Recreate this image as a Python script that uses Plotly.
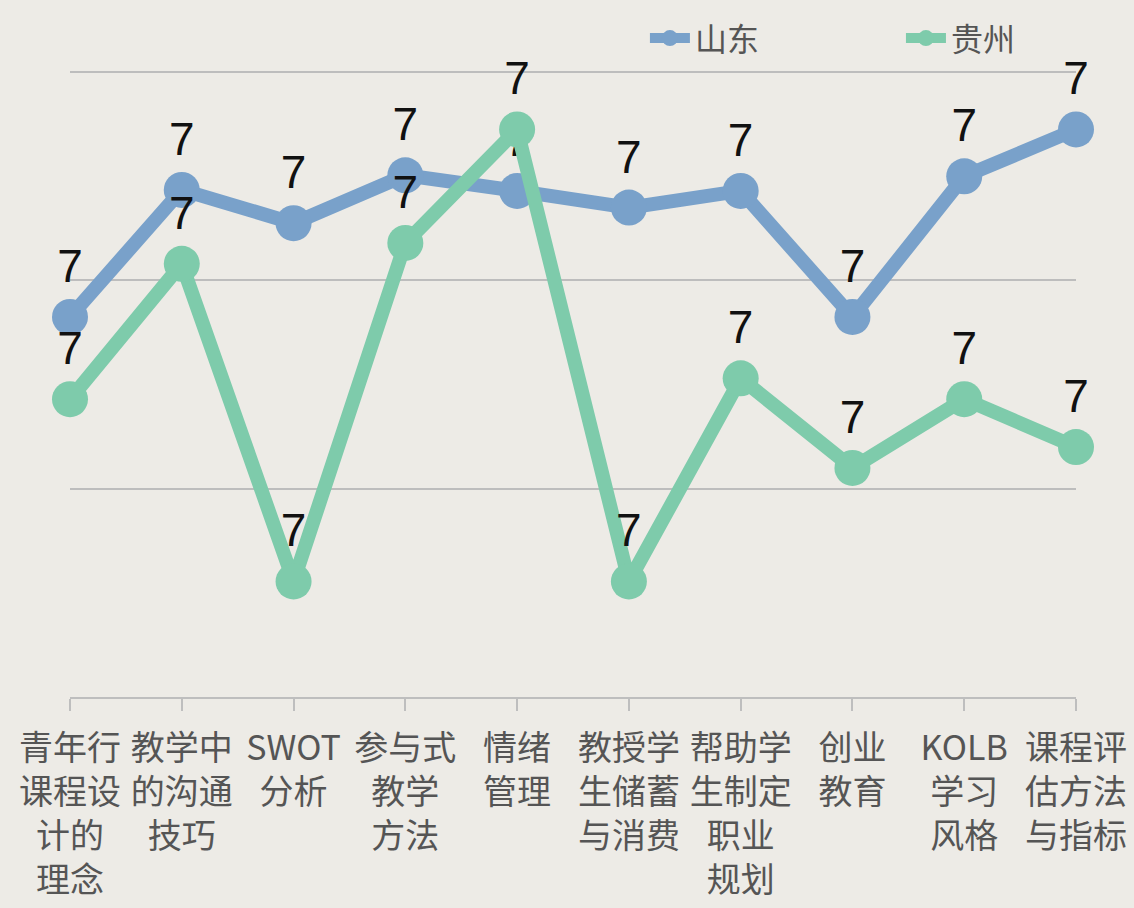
import plotly.graph_objects as go

categories = [
    "青年行<br>课程设<br>计的<br>理念",
    "教学中<br>的沟通<br>技巧",
    "SWOT<br>分析",
    "参与式<br>教学<br>方法",
    "情绪<br>管理",
    "教授学<br>生储蓄<br>与消费",
    "帮助学<br>生制定<br>职业<br>规划",
    "创业<br>教育",
    "KOLB<br>学习<br>风格",
    "课程评<br>估方法<br>与指标",
]
shandong = [6.765, 6.887, 6.855, 6.901, 6.886, 6.870, 6.886, 6.765, 6.900, 6.945]
guizhou = [6.686, 6.816, 6.511, 6.836, 6.945, 6.511, 6.706, 6.620, 6.686, 6.640]

series = [("山东", shandong, "#79A1CA", "legend"), ("贵州", guizhou, "#7ECBAB", "legend2")]

fig = go.Figure()
for name, vals, color, leg in series:
    fig.add_trace(go.Scatter(
        x=categories, y=vals, name=name, mode="lines+markers+text",
        line=dict(color=color, width=14),
        marker=dict(color=color, size=36),
        texttemplate="%{y:.0f}", textposition="top center",
        textfont=dict(family="Liberation Sans", size=46, color="#111111"),
        cliponaxis=False, legend=leg,
    ))

leg_common = dict(xanchor="left", y=1.044, yanchor="middle",
                  font=dict(size=32, color="#555555"), bgcolor="rgba(0,0,0,0)",
                  itemwidth=40)
fig.update_layout(
    width=1134, height=908,
    margin=dict(l=70, r=58, t=66, b=211),
    paper_bgcolor="#EDEBE6", plot_bgcolor="#EDEBE6",
    font=dict(family="Noto Sans CJK SC", color="#555555"),
    showlegend=True,
    legend=dict(x=0.5715, **leg_common),
    legend2=dict(x=0.8260, **leg_common),
)
fig.update_xaxes(
    type="category", range=[0, 9], showgrid=False, automargin=False,
    showline=True, linecolor="#BEBEBE", linewidth=2,
    ticks="outside", ticklen=12, tickwidth=2, tickcolor="#BEBEBE",
    tickfont=dict(family="Noto Sans CJK SC", size=34, color="#555555"),
    tickangle=0, ticklabelstandoff=8,
)
fig.update_yaxes(
    range=[6.4, 7.005], tickvals=[6.6, 6.8, 7.0], showticklabels=False, automargin=False,
    showgrid=True, gridcolor="#BDBDBD", gridwidth=2, zeroline=False, showline=False,
)
fig.write_html("out.html", config={"displayModeBar": False},
               post_script="document.body.style.margin='0';")
